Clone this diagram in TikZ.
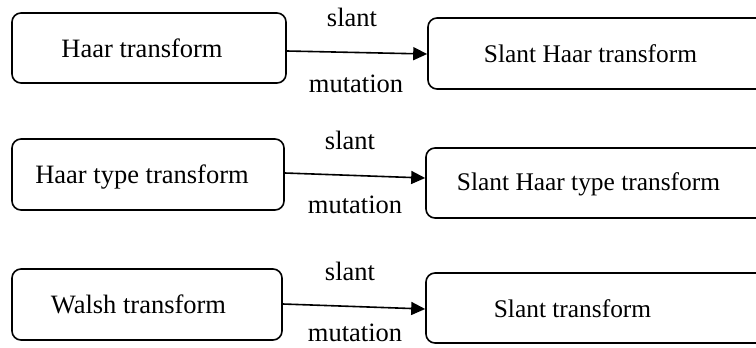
\documentclass[tikz,border=0pt]{standalone}
\usepackage{fontspec}
\setmainfont{Liberation Serif}
\usetikzlibrary{arrows.meta}
\tikzset{
  boxshape/.style={draw, line width=1.6pt, rounded corners=9pt, inner sep=0pt},
  lefttext/.style={anchor=base, inner sep=0pt, font=\fontsize{26.5}{30}\selectfont},
  righttext/.style={anchor=base, inner sep=0pt, font=\fontsize{25.4}{30}\selectfont},
  labeltext/.style={anchor=base, inner sep=0pt, text depth=0pt, font=\fontsize{26.5}{30}\selectfont},
  arr/.style={line width=1.6pt, -{Triangle[length=14pt,width=13pt]}}
}
\begin{document}
\begin{tikzpicture}[x=1pt,y=-1pt]
\useasboundingbox (0,0) rectangle (756,348);
% left boxes
\node[boxshape, minimum width=274pt, minimum height=70pt] (L1) at (149,48) {};
\node[boxshape, minimum width=272pt, minimum height=71pt] (L2) at (148,174.5) {};
\node[boxshape, minimum width=270pt, minimum height=71pt] (L3) at (147,304.5) {};
% right boxes (extend past the right edge)
\node[boxshape, minimum width=352pt, minimum height=71pt] (R1) at (604,53.5) {};
\node[boxshape, minimum width=354pt, minimum height=70pt] (R2) at (603,183) {};
\node[boxshape, minimum width=354pt, minimum height=70pt] (R3) at (603,308) {};
% texts
\node[lefttext] (t1) at (142,57) {Haar transform};
\node[lefttext] (t2) at (142,183) {Haar type transform};
\node[lefttext] (t3) at (138.5,313) {Walsh transform};
\node[righttext] (u1) at (590.5,63) {Slant Haar transform};
\node[righttext] (u2) at (588.5,190) {Slant Haar type transform};
\node[righttext] (u3) at (572.5,317) {Slant transform};
% labels
\node[labeltext] (s1) at (352,27) {slant};
\node[labeltext] (s2) at (350,149) {slant};
\node[labeltext] (s3) at (350,280) {slant};
\node[labeltext] (m1) at (356,92) {mutation};
\node[labeltext] (m2) at (355,213) {mutation};
\node[labeltext] (m3) at (355,341.5) {mutation};
% arrows
\draw[arr] ([yshift=-3pt]L1.east) -- ([yshift=-0.5pt]R1.west);
\draw[arr] ([yshift=1.5pt]L2.east) -- ([yshift=5pt]R2.west);
\draw[arr] ([yshift=0.5pt]L3.east) -- ([yshift=-1pt]R3.west);
\end{tikzpicture}
\end{document}
